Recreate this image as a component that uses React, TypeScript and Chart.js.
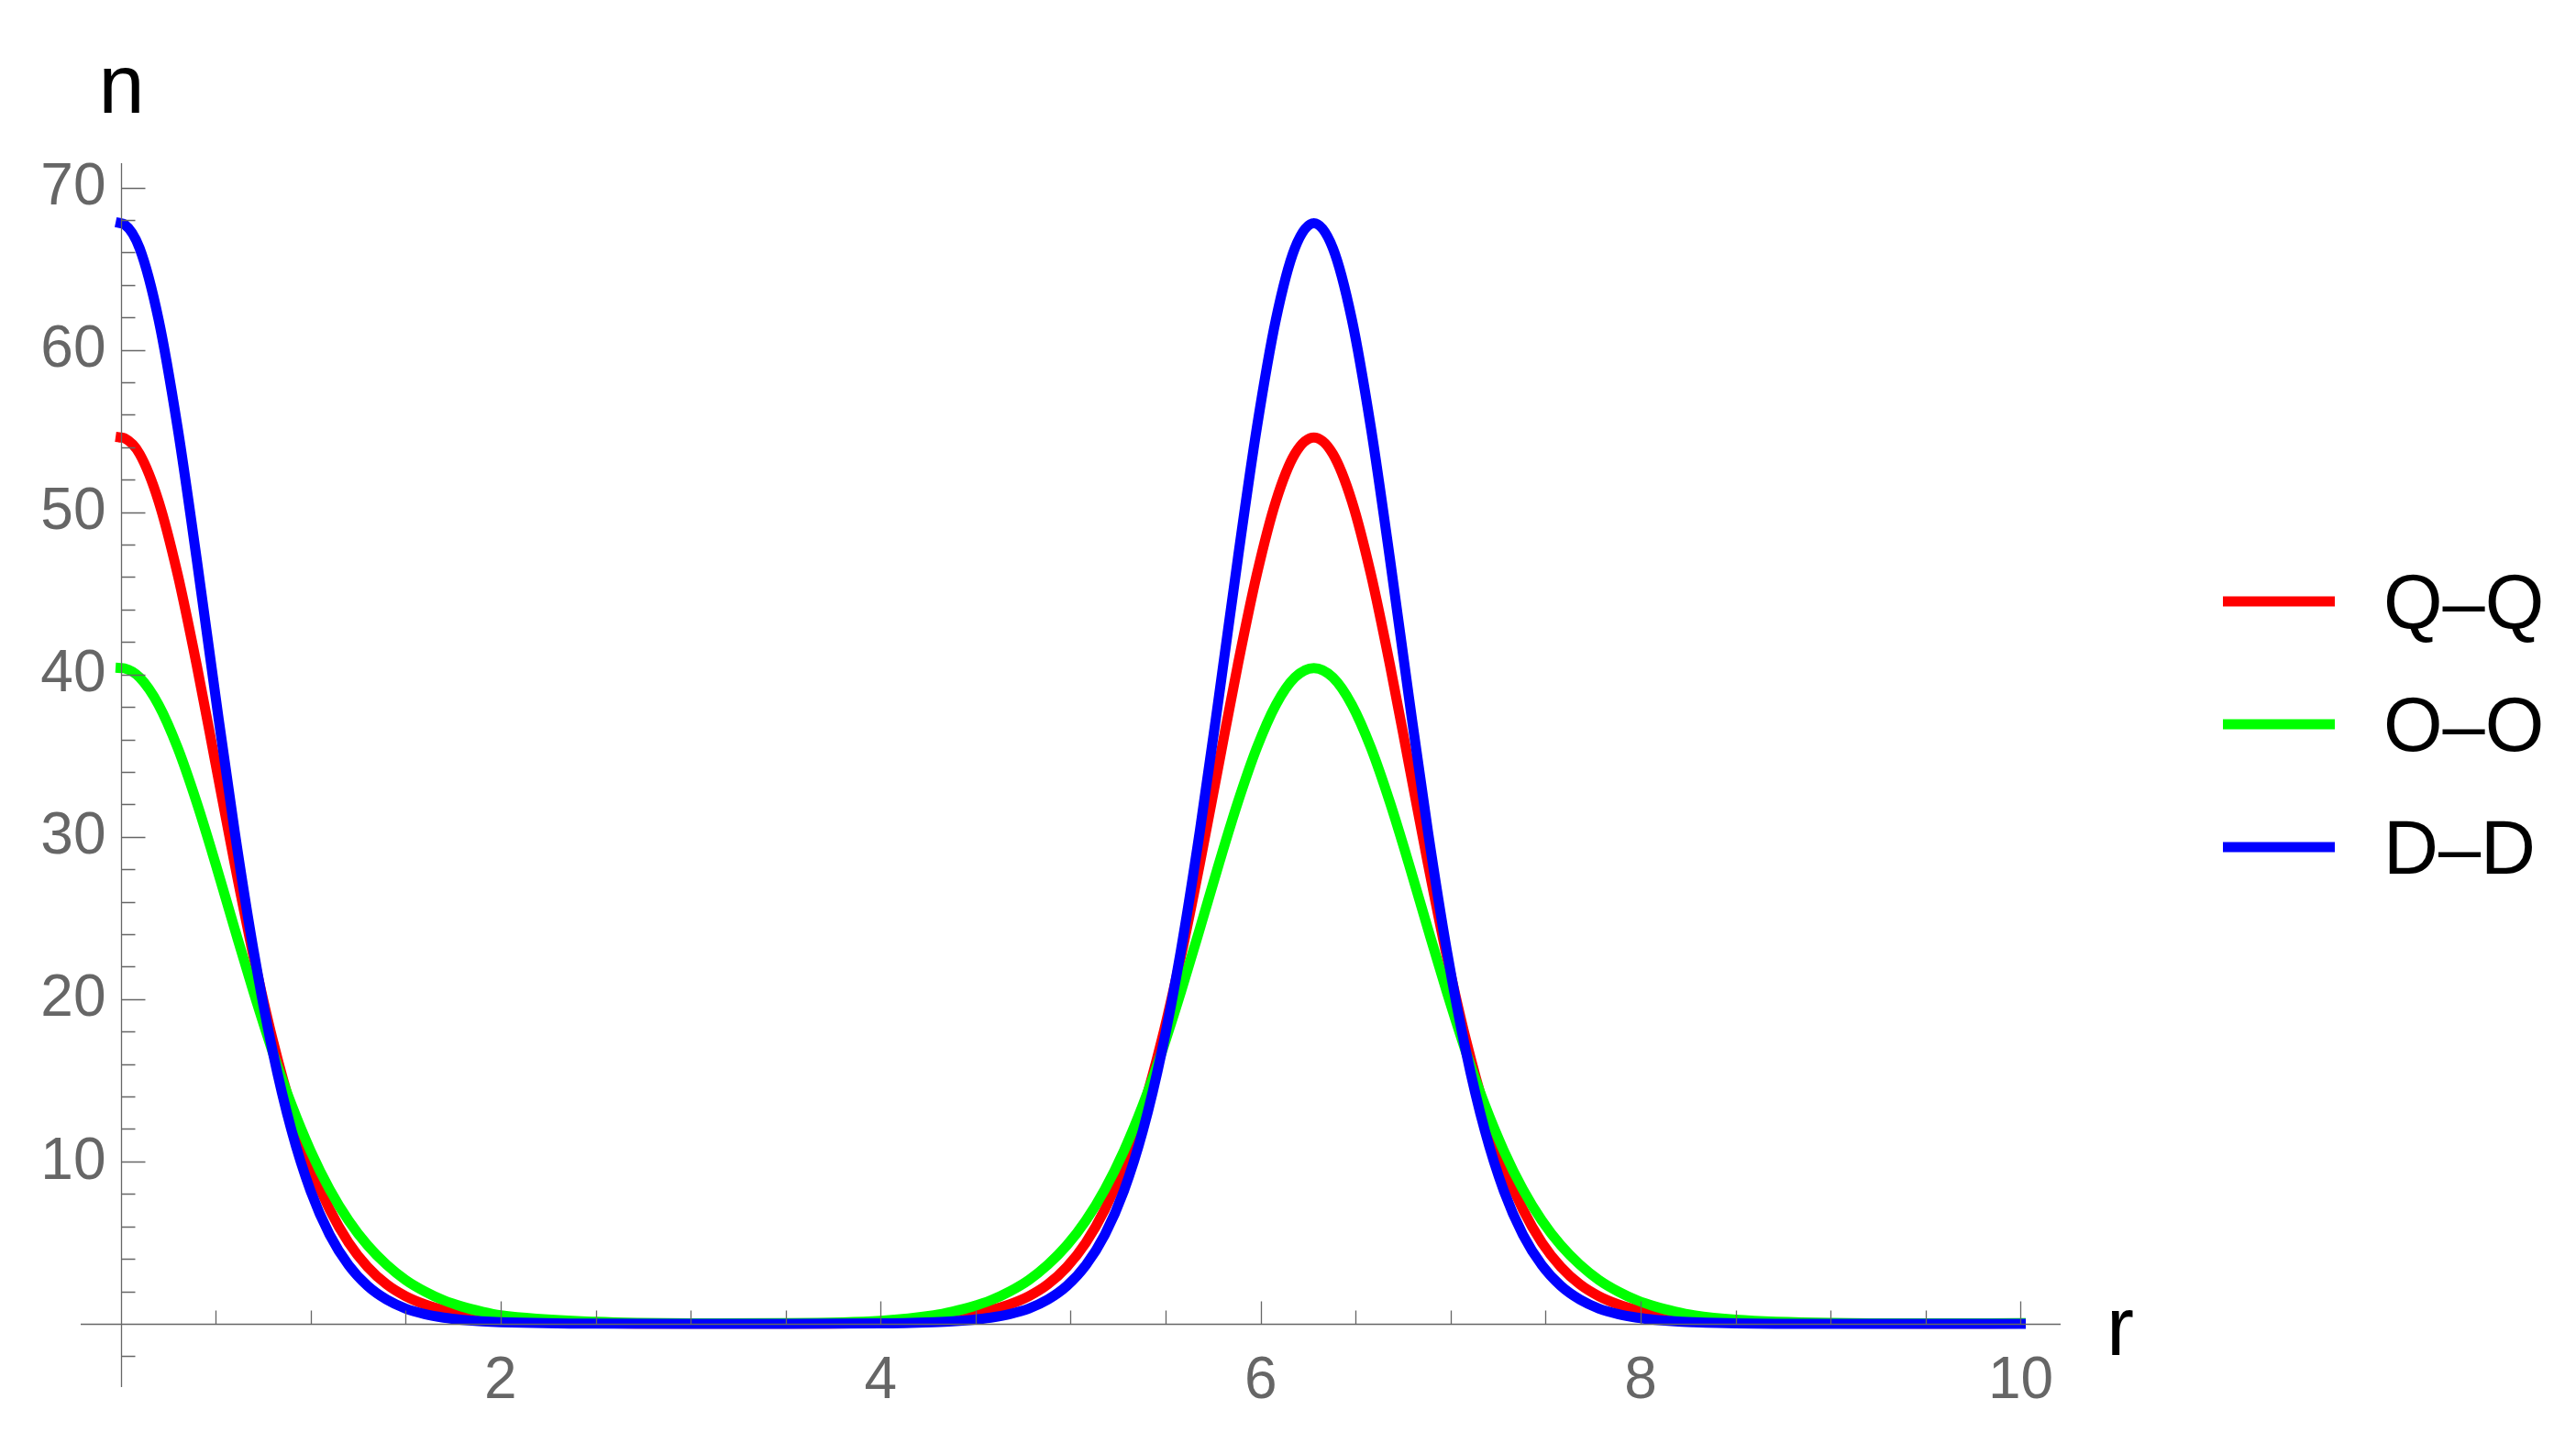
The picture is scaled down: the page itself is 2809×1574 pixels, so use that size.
import React, { useEffect, useRef } from 'react';
import { Chart, registerables } from 'chart.js';

Chart.register(...registerables);

// r positions of the samples
const rValues = [
  0, 0.02, 0.1, 0.2, 0.3, 0.4, 0.5, 0.6, 0.7, 0.8, 0.9, 1.0, 1.1, 1.2, 1.3, 1.4, 1.5, 1.6, 1.7, 1.8, 1.9, 2.0,
  2.5, 3.0, 3.5, 4.0,
  4.28, 4.38, 4.48, 4.58, 4.68, 4.78, 4.88, 4.98, 5.08, 5.18, 5.28, 5.38, 5.48, 5.58, 5.68, 5.78, 5.88, 5.98, 6.08, 6.18,
  6.28,
  6.38, 6.48, 6.58, 6.68, 6.78, 6.88, 6.98, 7.08, 7.18, 7.28, 7.38, 7.48, 7.58, 7.68, 7.78, 7.88, 7.98, 8.08, 8.18, 8.28,
  8.5, 9.0, 9.5, 10.0,
];

// Q–Q (red)
const qqValues = [
  54.6, 54.56, 53.59, 50.67, 46.18, 40.61, 34.5, 28.36, 22.61, 17.51, 13.21, 9.74, 7.04, 5.0, 3.5, 2.43, 1.7, 1.2, 0.85, 0.6, 0.42, 0.3,
  0.04, 0.01, 0.01, 0.07,
  0.3, 0.42, 0.6, 0.85, 1.2, 1.7, 2.43, 3.5, 5.0, 7.04, 9.74, 13.21, 17.51, 22.61, 28.36, 34.5, 40.61, 46.18, 50.67, 53.59,
  54.6,
  53.59, 50.67, 46.18, 40.61, 34.5, 28.36, 22.61, 17.51, 13.21, 9.74, 7.04, 5.0, 3.5, 2.43, 1.7, 1.2, 0.85, 0.6, 0.42, 0.3,
  0.1, 0.02, 0.01, 0.02,
];

// O–O (green)
const ooValues = [
  40.4, 40.38, 39.82, 38.13, 35.49, 32.13, 28.33, 24.34, 20.43, 16.76, 13.48, 10.65, 8.28, 6.36, 4.83, 3.64, 2.7, 2.0, 1.45, 1.05, 0.75, 0.52,
  0.12, 0.03, 0.04, 0.18,
  0.52, 0.75, 1.05, 1.45, 2.0, 2.7, 3.64, 4.83, 6.36, 8.28, 10.65, 13.48, 16.76, 20.43, 24.34, 28.33, 32.13, 35.49, 38.13, 39.82,
  40.4,
  39.82, 38.13, 35.49, 32.13, 28.33, 24.34, 20.43, 16.76, 13.48, 10.65, 8.28, 6.36, 4.83, 3.64, 2.7, 2.0, 1.45, 1.05, 0.75, 0.52,
  0.25, 0.05, 0.02, 0.04,
];

// D–D (blue)
const ddValues = [
  67.8, 67.74, 66.26, 61.86, 55.21, 47.15, 38.61, 30.36, 22.98, 16.8, 11.89, 8.18, 5.49, 3.61, 2.33, 1.49, 0.94, 0.6, 0.38, 0.24, 0.15, 0.1,
  0.01, 0, 0, 0.02,
  0.1, 0.15, 0.24, 0.38, 0.6, 0.94, 1.49, 2.33, 3.61, 5.49, 8.18, 11.89, 16.8, 22.98, 30.36, 38.61, 47.15, 55.21, 61.86, 66.26,
  67.8,
  66.26, 61.86, 55.21, 47.15, 38.61, 30.36, 22.98, 16.8, 11.89, 8.18, 5.49, 3.61, 2.33, 1.49, 0.94, 0.6, 0.38, 0.24, 0.15, 0.1,
  0.03, 0, 0, 0,
];

const seriesNames = ['Q\u2013Q', 'O\u2013O', 'D\u2013D'];
const seriesColors = ['#ff0000', '#00ff00', '#0000ff'];

const xMajorTicks = [2, 4, 6, 8, 10];
const xTickLabels = ['2', '4', '6', '8', '10'];
const xMinorTicks = [0.5, 1, 1.5, 2.5, 3, 3.5, 4.5, 5, 5.5, 6.5, 7, 7.5, 8.5, 9, 9.5];
const yMajorTicks = [10, 20, 30, 40, 50, 60, 70];
const yTickLabels = ['10', '20', '30', '40', '50', '60', '70'];
const yMinorTicks = [-2, 2, 4, 6, 8, 12, 14, 16, 18, 22, 24, 26, 28, 32, 34, 36, 38, 42, 44, 46, 48, 52, 54, 56, 58, 62, 64, 66, 68];

const xAxisTitle = 'r';
const yAxisTitle = 'n';
const xRange = [-0.21, 10.21];
const yRange = [-3.9, 71.5];

const FONT = '"Liberation Sans", Arial, Helvetica, sans-serif';
const AXIS_GRAY = '#666666';

const mathAxesPlugin = {
  id: 'mathAxes',
  afterDatasetsDraw(chart: any) {
    const ctx = chart.ctx as CanvasRenderingContext2D;
    const xs = chart.scales.x;
    const ys = chart.scales.y;
    const area = chart.chartArea;
    const x0 = Math.round(xs.getPixelForValue(0)) + 0.5;
    const y0 = Math.round(ys.getPixelForValue(0)) + 0.5;
    ctx.save();
    ctx.strokeStyle = AXIS_GRAY;
    ctx.lineWidth = 1.3;
    ctx.beginPath();
    ctx.moveTo(area.left, y0);
    ctx.lineTo(area.right, y0);
    ctx.moveTo(x0, area.top);
    ctx.lineTo(x0, area.bottom);
    xMajorTicks.forEach((v) => {
      const px = Math.round(xs.getPixelForValue(v)) + 0.5;
      ctx.moveTo(px, y0);
      ctx.lineTo(px, y0 - 25);
    });
    xMinorTicks.forEach((v) => {
      const px = Math.round(xs.getPixelForValue(v)) + 0.5;
      ctx.moveTo(px, y0);
      ctx.lineTo(px, y0 - 15);
    });
    yMajorTicks.forEach((v) => {
      const py = Math.round(ys.getPixelForValue(v)) + 0.5;
      ctx.moveTo(x0, py);
      ctx.lineTo(x0 + 26, py);
    });
    yMinorTicks.forEach((v) => {
      const py = Math.round(ys.getPixelForValue(v)) + 0.5;
      ctx.moveTo(x0, py);
      ctx.lineTo(x0 + 15, py);
    });
    ctx.stroke();

    ctx.fillStyle = AXIS_GRAY;
    ctx.font = `64px ${FONT}`;
    ctx.textBaseline = 'middle';
    ctx.textAlign = 'center';
    xMajorTicks.forEach((v, i) => {
      ctx.fillText(xTickLabels[i], xs.getPixelForValue(v), y0 + 63);
    });
    ctx.textAlign = 'right';
    yMajorTicks.forEach((v, i) => {
      ctx.fillText(yTickLabels[i], x0 - 17, ys.getPixelForValue(v) + 1);
    });

    // axis titles
    ctx.fillStyle = '#000000';
    ctx.font = `90px ${FONT}`;
    ctx.textBaseline = 'alphabetic';
    ctx.textAlign = 'center';
    ctx.fillText(yAxisTitle, x0, area.top - 55);
    ctx.textAlign = 'left';
    ctx.fillText(xAxisTitle, area.right + 50, y0 + 33);

    // legend
    const datasets = chart.data.datasets;
    ctx.font = `83px ${FONT}`;
    datasets.forEach((ds: any, i: number) => {
      const rowY = 656 + i * 134;
      ctx.strokeStyle = ds.borderColor;
      ctx.lineWidth = 11;
      ctx.lineCap = 'butt';
      ctx.beginPath();
      ctx.moveTo(area.right + 177, rowY);
      ctx.lineTo(area.right + 299, rowY);
      ctx.stroke();
      ctx.fillStyle = '#000000';
      ctx.textAlign = 'left';
      ctx.textBaseline = 'alphabetic';
      ctx.fillText(ds.label, area.right + 352, rowY + 29);
    });
    ctx.restore();
  },
};

export default function App() {
  const canvasRef = useRef<HTMLCanvasElement | null>(null);

  useEffect(() => {
    const canvas = canvasRef.current;
    if (!canvas) return;
    const seriesValues = [qqValues, ooValues, ddValues];
    const chart = new Chart(canvas, {
      type: 'line',
      data: {
        datasets: seriesValues.map((vals, k) => ({
          label: seriesNames[k],
          data: rValues.map((r, i) => ({ x: r, y: vals[i] })),
          borderColor: seriesColors[k],
          backgroundColor: seriesColors[k],
          borderWidth: 11,
          pointRadius: 0,
          pointHoverRadius: 0,
          fill: false,
          cubicInterpolationMode: 'monotone' as const,
          borderCapStyle: 'square' as const,
          borderJoinStyle: 'round' as const,
          order: 3 - k,
        })),
      },
      options: {
        responsive: false,
        maintainAspectRatio: false,
        devicePixelRatio: 1,
        animation: false,
        events: [],
        layout: { padding: { left: 88, right: 562, top: 178, bottom: 61 } },
        plugins: {
          legend: { display: false },
          tooltip: { enabled: false },
          title: { display: false },
        },
        scales: {
          x: { type: 'linear', min: xRange[0], max: xRange[1], display: false },
          y: { type: 'linear', min: yRange[0], max: yRange[1], display: false },
        },
      },
      plugins: [mathAxesPlugin],
    });
    return () => chart.destroy();
  }, []);

  return (
    <div style={{ position: 'fixed', left: 0, top: 0, width: 2809, height: 1574, background: '#ffffff' }}>
      <canvas ref={canvasRef} width={2809} height={1574} style={{ display: 'block', width: 2809, height: 1574 }} />
    </div>
  );
}
